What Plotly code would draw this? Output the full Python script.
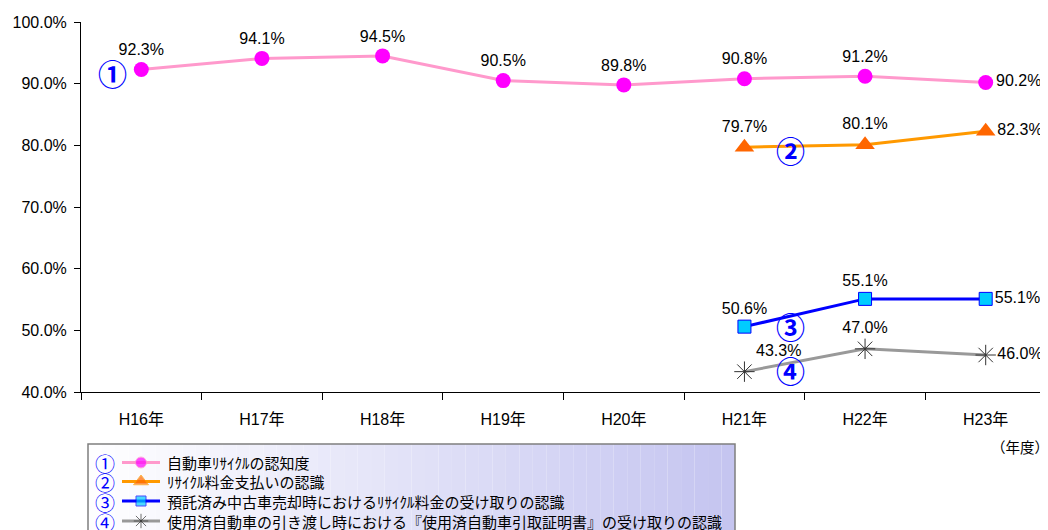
import plotly.graph_objects as go

years = ["H16年", "H17年", "H18年", "H19年", "H20年", "H21年", "H22年", "H23年"]
s1_name = "自動車ﾘｻｲｸﾙの認知度"
s1_vals = [92.3, 94.1, 94.5, 90.5, 89.8, 90.8, 91.2, 90.2]
s2_name = "ﾘｻｲｸﾙ料金支払いの認識"
s2_vals = [None, None, None, None, None, 79.7, 80.1, 82.3]
s3_name = "預託済み中古車売却時におけるﾘｻｲｸﾙ料金の受け取りの認識"
s3_vals = [None, None, None, None, None, 50.6, 55.1, 55.1]
s4_name = "使用済自動車の引き渡し時における『使用済自動車引取証明書』の受け取りの認識"
s4_vals = [None, None, None, None, None, 43.3, 47.0, 46.0]
y_ticks = [40, 50, 60, 70, 80, 90, 100]
circled = ["①", "②", "③", "④"]

FONT = "Liberation Sans, Noto Sans CJK JP, sans-serif"
JFONT = "Noto Sans CJK JP"
xs = list(range(len(years)))

# page body has an 8px default margin; the figure is laid out to compensate
OFF = 8
W, H = 1048 - OFF, 530 - OFF
PLOT_L, PLOT_R, PLOT_T, PLOT_B = 81, 1046, 22, 392  # target screen pixels
ML, MT = PLOT_L - OFF, PLOT_T - OFF
MR = W - (PLOT_R - OFF)
paper_h = H - MT
main_dom = [(H - (PLOT_B - OFF)) / paper_h, 1.0]


def labels(vals):
    return [None if v is None else f"{v:.1f}%" for v in vals]


def positions(vals, first_special=None):
    pos = []
    idx = [i for i, v in enumerate(vals) if v is not None]
    for i, v in enumerate(vals):
        if i == idx[-1]:
            pos.append("middle right")
        elif first_special and i == idx[0]:
            pos.append(first_special)
        else:
            pos.append("top center")
    return pos


names = [s1_name, s2_name, s3_name, s4_name]
values = [s1_vals, s2_vals, s3_vals, s4_vals]
line_colors = ["#FF99CC", "#FF9900", "#0000FF", "#999999"]
markers = [
    dict(symbol="circle", size=15, color="#FF00FF"),
    dict(symbol="triangle-up", size=17, color="#FF6600"),
    dict(symbol="square", size=13, color="#00CCFF", line=dict(color="#0000FF", width=1)),
    dict(symbol="asterisk-open", size=17, color="#333333", line=dict(color="#333333", width=1)),
]
legend_markers = [
    dict(symbol="circle", size=11, color="#FF00FF"),
    dict(symbol="triangle-up", size=13, color="#FF6600"),
    dict(symbol="square", size=10, color="#00CCFF", line=dict(color="#0000FF", width=1)),
    dict(symbol="asterisk-open", size=12, color="#333333", line=dict(color="#333333", width=1)),
]
first_pos = [None, None, None, "top right"]

fig = go.Figure()
for name, vals, lc, mk, fs in zip(names, values, line_colors, markers, first_pos):
    fig.add_trace(go.Scatter(
        x=xs, y=vals, name=name, mode="lines+markers+text",
        line=dict(color=lc, width=3), marker=mk,
        text=labels(vals), textposition=positions(vals, fs),
        textfont=dict(family=FONT, size=16, color="#000000"),
        cliponaxis=False, showlegend=False, xaxis="x", yaxis="y",
    ))

# circled numbers in plot
for t, xv, yv in [("①", -0.24, 91.7), ("②", 5.38, 79.2), ("③", 5.38, 50.7), ("④", 5.38, 43.6)]:
    fig.add_annotation(x=xv, y=yv, xref="x", yref="y", text=f"<b>{t}</b>", showarrow=False,
                       font=dict(family=JFONT, size=29, color="#0000FF"))

# ---- manual legend in screen-pixel helper axes (x2/y2) ----
BOX_L, BOX_R, BOX_T, BOX_B = 88, 735, 444, 545
n = 48
for i in range(n):
    f = (i + 0.5) / n
    r = int(round(255 - f * (255 - 196)))
    g = int(round(255 - f * (255 - 196)))
    b = int(round(255 - f * (255 - 240)))
    fig.add_shape(type="rect", xref="x2", yref="y2",
                  x0=BOX_L + (BOX_R - BOX_L) * i / n, x1=BOX_L + (BOX_R - BOX_L) * (i + 1) / n,
                  y0=BOX_T, y1=BOX_B, line=dict(width=0),
                  fillcolor=f"rgb({r},{g},{b})", layer="below")
fig.add_shape(type="rect", xref="x2", yref="y2", x0=BOX_L, x1=BOX_R, y0=BOX_T, y1=BOX_B,
              line=dict(color="#7F7F7F", width=1.5))

row_y = [462.5, 481.5, 501, 521]
for k in range(4):
    yy = row_y[k]
    fig.add_trace(go.Scatter(
        x=[122, 141, 160], y=[yy, yy, yy], mode="lines+markers", xaxis="x2", yaxis="y2",
        line=dict(color=line_colors[k], width=3),
        marker=dict(legend_markers[k], size=[0, legend_markers[k]["size"], 0]),
        showlegend=False, hoverinfo="skip"))
    fig.add_annotation(xref="x2", yref="y2", x=105, y=yy + 1, text=circled[k], showarrow=False,
                       font=dict(family=JFONT, size=20, color="#0000FF"))
    fig.add_annotation(xref="x2", yref="y2", x=165, y=yy, text=names[k], showarrow=False,
                       xanchor="left", font=dict(family=JFONT, size=15, color="#000000"))

fig.add_annotation(xref="x2", yref="y2", x=1020, y=446,
                   text="（年度）", showarrow=False,
                   font=dict(family=JFONT, size=14.5, color="#000000"))

fig.update_layout(
    width=W, height=H,
    margin=dict(l=ML, r=MR, t=MT, b=0, autoexpand=False),
    paper_bgcolor="white", plot_bgcolor="rgba(0,0,0,0)",
    font=dict(family=FONT, size=15.5, color="#000000"),
    showlegend=False,
    xaxis=dict(domain=[0, 1], anchor="y", range=[-0.5, 7.5], tickmode="array",
               tickvals=xs, ticktext=years,
               ticks="", showgrid=False, zeroline=False, showline=True,
               linecolor="#000000", linewidth=1, ticklabelstandoff=13,
               tickfont=dict(family=FONT, size=16),
               minor=dict(tickmode="array", tickvals=[i - 0.5 for i in range(len(years) + 1)],
                          ticks="outside", ticklen=7, tickcolor="#000000", showgrid=False)),
    yaxis=dict(domain=main_dom, anchor="x", range=[40, 100], tickmode="array",
               tickvals=y_ticks, ticktext=[f"{v:.1f}%" for v in y_ticks],
               ticks="outside", ticklen=6, tickcolor="#000000", showgrid=False,
               zeroline=False, showline=True, linecolor="#000000", linewidth=1,
               ticklabelstandoff=4, tickfont=dict(family=FONT, size=16)),
    xaxis2=dict(domain=[0, 1], anchor="y2", range=[PLOT_L, PLOT_R], visible=False,
                fixedrange=True),
    yaxis2=dict(domain=[0, main_dom[0]], anchor="x2", range=[H + OFF, PLOT_B], visible=False,
                fixedrange=True),
)

fig.write_html("out.html")
